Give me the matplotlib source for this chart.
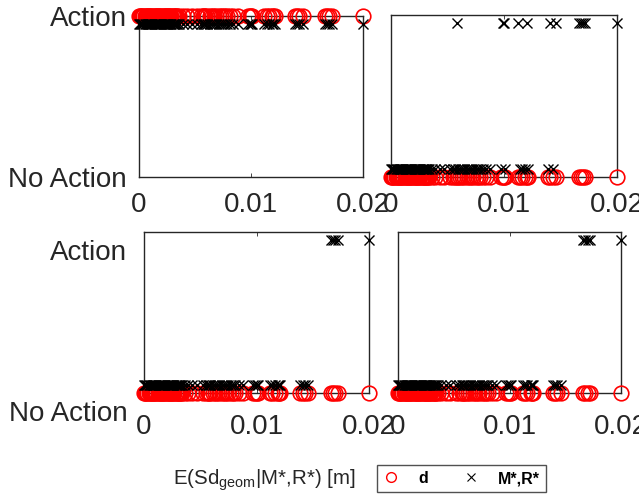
import matplotlib
matplotlib.use("Agg")
import matplotlib.pyplot as plt
from matplotlib.lines import Line2D
from matplotlib.transforms import ScaledTranslation

plt.rcParams['font.family'] = ['Liberation Sans', 'DejaVu Sans']
plt.rcParams['mathtext.fontset'] = 'custom'
plt.rcParams['mathtext.rm'] = 'Liberation Sans'
plt.rcParams['mathtext.it'] = 'Liberation Sans'

# E(Sd_geom | M*,R*) [m] for each case
sd_vals = [
    0.0000, 0.0001, 0.0002, 0.0003, 0.0004, 0.0005, 0.0006, 0.0007, 0.0008, 0.0009,
    0.0010, 0.0011, 0.0012, 0.0013, 0.0014, 0.0015, 0.0016, 0.0017, 0.0018, 0.0019,
    0.0020, 0.0021, 0.0022, 0.0023, 0.0024, 0.0025, 0.0026, 0.0027, 0.0028, 0.0029,
    0.0030, 0.0031, 0.0032, 0.0033, 0.0034, 0.0036, 0.0039, 0.0043, 0.0047,
    0.0052, 0.0055, 0.0057, 0.0058, 0.0059, 0.0061, 0.0063, 0.0065, 0.0067, 0.0069,
    0.0071, 0.0073, 0.0075, 0.0077, 0.0079, 0.0081, 0.0084, 0.0088,
    0.0097, 0.0099, 0.0100, 0.0101, 0.0112, 0.0114, 0.0116, 0.0119, 0.0120, 0.0121,
    0.0139, 0.0141, 0.0143, 0.0146, 0.0166, 0.0168, 0.0170, 0.0172, 0.0200,
]

# decision by d (1 = Action, 0 = No Action), one value per panel
d_decision = [1, 0, 0, 0]

# cases where M*,R* says Action, per panel (None = all cases)
mr_action_tl = None
mr_action_tr = [0.0058, 0.0099, 0.0100, 0.0112, 0.0120, 0.0141, 0.0146,
                0.0166, 0.0168, 0.0170, 0.0172, 0.0200]
mr_action_bl = [0.0166, 0.0168, 0.0170, 0.0172, 0.0200]
mr_action_br = [0.0166, 0.0168, 0.0170, 0.0172, 0.0200]
mr_action = [mr_action_tl, mr_action_tr, mr_action_bl, mr_action_br]

xticks = [0, 0.01, 0.02]
xticklabels = ['0', '0.01', '0.02']
yticklabels = ['No Action', 'Action']

W, H = 639, 501
fig = plt.figure(figsize=(W / 100, H / 100), dpi=100)

# axes boxes in pixels: left, top, right, bottom
boxes = [(139, 16, 363, 177), (391, 15, 617, 177),
         (144, 232, 369, 393), (398, 232, 621, 393)]

txt_col = '#262626'
off = 0.05

for k, (l, t, r, b) in enumerate(boxes):
    ax = fig.add_axes([l / W, 1 - b / H, (r - l) / W, (b - t) / H])
    yd = [d_decision[k]] * len(sd_vals)
    acts = mr_action[k]
    ym = []
    for v in sd_vals:
        a = 1 if acts is None or v in acts else 0
        ym.append(1 - off if a else off)
    ax.plot(sd_vals, yd, 'o', mfc='none', mec='red', ms=10.5, mew=1.2, clip_on=False, zorder=3)
    ax.plot(sd_vals, ym, 'x', color='black', ms=7, mew=1.0, clip_on=False, zorder=4)
    ax.set_xlim(0, 0.02)
    ax.set_ylim(0, 1)
    ax.set_xticks(xticks)
    ax.set_xticklabels(xticklabels)
    ax.set_yticks([0, 1])
    for s in ax.spines.values():
        s.set_linewidth(1.0)
        s.set_color(txt_col)
    top_row = k < 2
    ax.tick_params(direction='in', top=True, right=True, length=3, width=0.6,
                   labelsize=20, labelcolor=txt_col, color=txt_col)
    ax.tick_params(axis='x', pad=11 if top_row else 15)
    if k % 2 == 0:
        ax.set_yticklabels(yticklabels)
        ax.tick_params(axis='y', pad=9 if top_row else 12)
        if not top_row:
            shift = ScaledTranslation(0, -18 / 100, fig.dpi_scale_trans)
            for lab in ax.get_yticklabels():
                lab.set_transform(lab.get_transform() + shift)
    else:
        ax.set_yticklabels([])
    if k == 0:
        h_d = Line2D([], [], ls='none', marker='o', mfc='none', mec='red', ms=7, mew=1.0)
        h_m = Line2D([], [], ls='none', marker='x', color='black', ms=6, mew=0.8)

fig.text(264 / W, 1 - 480 / H, r'E(Sd$_{\mathrm{geom}}$|M*,R*) [m]',
         ha='center', va='center', fontsize=14.8, color=txt_col)

leg = fig.legend([h_d, h_m], ['d', 'M*,R*'], ncol=2, loc='center',
                 bbox_to_anchor=(461.5 / W, 1 - 478.5 / H),
                 prop={'weight': 'bold', 'size': 11.5},
                 frameon=True, fancybox=False, edgecolor=txt_col,
                 handlelength=1.0, handletextpad=1.2, columnspacing=2.2,
                 borderpad=0.35)
leg.get_frame().set_linewidth(1.0)

fig.savefig('out.png', dpi=100)
